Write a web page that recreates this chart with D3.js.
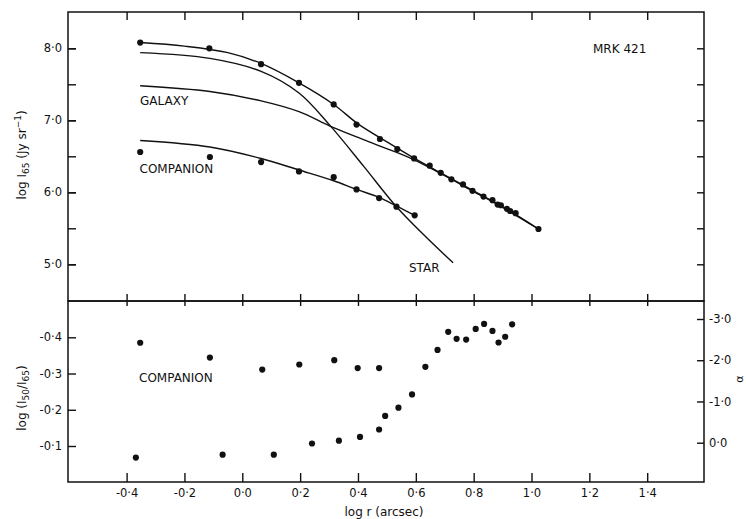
<!DOCTYPE html>
<html>
<head>
<meta charset="utf-8">
<script src="https://cdn.jsdelivr.net/npm/d3@7"></script>
<style>
body { margin: 0; background: #fff; }
text { font-family: "DejaVu Sans", sans-serif; fill: #111; }
</style>
</head>
<body>
<svg id="chart" width="746" height="519"></svg>
<script>
// measured points, upper panel (log r, log I65)
var totalR = [-0.353, -0.114, 0.065, 0.196, 0.316, 0.395, 0.476, 0.536, 0.594, 0.648, 0.686, 0.723, 0.763, 0.796, 0.834, 0.865, 0.883, 0.894, 0.915, 0.926, 0.945, 1.024];
var totalI = [8.08, 8.00, 7.78, 7.52, 7.22, 6.94, 6.74, 6.60, 6.47, 6.37, 6.27, 6.18, 6.11, 6.02, 5.94, 5.89, 5.83, 5.82, 5.77, 5.74, 5.71, 5.49];
var compR = [-0.353, -0.112, 0.065, 0.196, 0.316, 0.395, 0.473, 0.533, 0.596];
var compI = [6.56, 6.49, 6.42, 6.29, 6.21, 6.04, 5.92, 5.80, 5.68];

// model curves
var fitR = [-0.353, -0.2, -0.05, 0.065, 0.196, 0.316, 0.4, 0.5, 0.6, 0.7, 0.8, 0.9, 1.024];
var fitTotal = [8.08, 8.03, 7.94, 7.79, 7.52, 7.22, 6.95, 6.70, 6.46, 6.24, 6.02, 5.80, 5.49];
var galR = [-0.353, -0.112, 0.065, 0.196, 0.303, 0.395, 0.476, 0.536, 0.6, 0.7, 0.8, 0.9, 1.024];
var galI = [7.48, 7.40, 7.27, 7.12, 6.92, 6.77, 6.64, 6.55, 6.44, 6.23, 6.01, 5.79, 5.49];
var starR = [-0.353, -0.112, 0.065, 0.196, 0.303, 0.42, 0.533, 0.63, 0.729];
var starI = [7.94, 7.86, 7.68, 7.38, 6.93, 6.36, 5.80, 5.40, 5.02];
var compFitR = [-0.353, -0.112, 0.065, 0.196, 0.316, 0.395, 0.473, 0.533, 0.596];
var compFitI = [6.72, 6.63, 6.47, 6.31, 6.16, 6.04, 5.93, 5.81, 5.68];

// lower panel: companion colour and alpha of the galaxy
var colorR = [-0.353, -0.112, 0.069, 0.197, 0.318, 0.399, 0.473];
var colorC = [-0.385, -0.344, -0.311, -0.325, -0.337, -0.315, -0.315];
var alphaR = [-0.368, -0.068, 0.109, 0.241, 0.334, 0.407, 0.473, 0.494, 0.540, 0.587, 0.633, 0.675, 0.712, 0.741, 0.774, 0.807, 0.836, 0.865, 0.886, 0.909, 0.933];
var alphaV = [0.36, 0.29, 0.29, 0.02, -0.05, -0.14, -0.32, -0.65, -0.85, -1.17, -1.84, -2.25, -2.69, -2.52, -2.50, -2.76, -2.88, -2.71, -2.43, -2.57, -2.87];

// ticks
var xTicks = [-0.4, -0.2, 0.0, 0.2, 0.4, 0.6, 0.8, 1.0, 1.2, 1.4];
var topTicks = [5.0, 6.0, 7.0, 8.0];
var topMinor = [5.0, 5.5, 6.0, 6.5, 7.0, 7.5, 8.0];
var botTicks = [-0.1, -0.2, -0.3, -0.4];
var alphaTicks = [0.0, -1.0, -2.0, -3.0];

var svg = d3.select("#chart");
var frameL = 68, frameR = 704, frameT = 12, frameM = 301, frameB = 482;

var x = d3.scaleLinear().domain([-0.4, 1.4]).range([126.6, 647.2]);
var yTop = d3.scaleLinear().domain([5, 8]).range([264.3, 48.3]);
var yBot = d3.scaleLinear().domain([-0.1, -0.4]).range([446, 337.3]);
var yAlpha = d3.scaleLinear().domain([0, -3]).range([442.7, 319]);

function fmt(d) {
    return d3.format(".1f")(d).replace("\u2212", "-").replace(".", "\u00b7");
}

// frames
svg.append("rect").attr("x", frameL).attr("y", frameT).attr("width", frameR - frameL).attr("height", frameM - frameT)
    .attr("fill", "none").attr("stroke", "#111").attr("stroke-width", 1.5);
svg.append("rect").attr("x", frameL).attr("y", frameM).attr("width", frameR - frameL).attr("height", frameB - frameM)
    .attr("fill", "none").attr("stroke", "#111").attr("stroke-width", 1.5);

// x axes
var xb = svg.append("g").attr("transform", "translate(0," + frameB + ")")
    .call(d3.axisBottom(x).tickValues(xTicks).tickSize(-9).tickPadding(7).tickFormat(fmt));
var xt = svg.append("g").attr("transform", "translate(0," + frameT + ")")
    .call(d3.axisTop(x).tickValues(xTicks).tickSize(-8).tickFormat(""));
var xm = svg.append("g").attr("transform", "translate(0," + (frameM + 5) + ")")
    .call(d3.axisTop(x).tickValues(xTicks).tickSize(12).tickFormat(""));

// y axes, upper panel
var yl = svg.append("g").attr("transform", "translate(" + frameL + ",0)")
    .call(d3.axisLeft(yTop).tickValues(topTicks).tickSize(-8).tickPadding(6).tickFormat(fmt));
var ylm = svg.append("g").attr("transform", "translate(" + frameL + ",0)")
    .call(d3.axisLeft(yTop).tickValues(topMinor).tickSize(-8).tickFormat(""));
var yr = svg.append("g").attr("transform", "translate(" + frameR + ",0)")
    .call(d3.axisRight(yTop).tickValues(topMinor).tickSize(-7).tickFormat(""));

// y axes, lower panel
var bl = svg.append("g").attr("transform", "translate(" + frameL + ",0)")
    .call(d3.axisLeft(yBot).tickValues(botTicks).tickSize(-8).tickPadding(6).tickFormat(fmt));
var br = svg.append("g").attr("transform", "translate(" + frameR + ",0)")
    .call(d3.axisRight(yAlpha).tickValues(alphaTicks).tickSize(-7).tickPadding(5).tickFormat(fmt));

[xb, xt, xm, yl, ylm, yr, bl, br].forEach(function (g) {
    g.select(".domain").remove();
    g.selectAll(".tick line").attr("stroke", "#111").attr("stroke-width", 1.4);
    g.selectAll(".tick text").attr("font-size", 11.5).attr("fill", "#111")
        .attr("font-family", "DejaVu Sans, sans-serif");
});

// curves
var line = d3.line()
    .x(function (d) { return x(d[0]); })
    .y(function (d) { return yTop(d[1]); })
    .curve(d3.curveCatmullRom.alpha(0.5));

function zip(a, b) {
    return a.map(function (v, i) { return [v, b[i]]; });
}

[[fitR, fitTotal], [galR, galI], [starR, starI], [compFitR, compFitI]].forEach(function (c) {
    svg.append("path")
        .attr("d", line(zip(c[0], c[1])))
        .attr("fill", "none")
        .attr("stroke", "#111")
        .attr("stroke-width", 1.4);
});

// dots
function dots(rs, vs, yScale) {
    svg.append("g").selectAll("circle")
        .data(zip(rs, vs))
        .enter().append("circle")
        .attr("cx", function (d) { return x(d[0]); })
        .attr("cy", function (d) { return yScale(d[1]); })
        .attr("r", 3.1)
        .attr("fill", "#111");
}
dots(totalR, totalI, yTop);
dots(compR, compI, yTop);
dots(colorR, colorC, yBot);
dots(alphaR, alphaV, yAlpha);

// labels
function label(txt, px, py, size) {
    svg.append("text").attr("x", px).attr("y", py).attr("font-size", size || 12).text(txt);
}
label("MRK 421", 593, 53);
label("GALAXY", 140, 104.5);
label("COMPANION", 139.5, 172.5);
label("STAR", 409, 272);
label("COMPANION", 139, 381.5);

// axis titles
var t1 = svg.append("text").attr("transform", "translate(26,155) rotate(-90)")
    .attr("text-anchor", "middle").attr("font-size", 12);
t1.append("tspan").text("log I");
t1.append("tspan").attr("font-size", 9).attr("dy", 3).text("65");
t1.append("tspan").attr("dy", -3).text(" (Jy sr");
t1.append("tspan").attr("font-size", 9).attr("dy", -5).text("\u22121");
t1.append("tspan").attr("dy", 5).text(")");

var t2 = svg.append("text").attr("transform", "translate(26,398) rotate(-90)")
    .attr("text-anchor", "middle").attr("font-size", 12);
t2.append("tspan").text("log (I");
t2.append("tspan").attr("font-size", 9).attr("dy", 3).text("50");
t2.append("tspan").attr("dy", -3).text("/I");
t2.append("tspan").attr("font-size", 9).attr("dy", 3).text("65");
t2.append("tspan").attr("dy", -3).text(")");

svg.append("text").attr("x", 384).attr("y", 516).attr("text-anchor", "middle")
    .attr("font-size", 12).text("log r (arcsec)");

svg.append("text").attr("transform", "translate(743,379) rotate(-90)")
    .attr("text-anchor", "middle").attr("font-size", 11).text("\u03b1");
</script>
</body>
</html>
